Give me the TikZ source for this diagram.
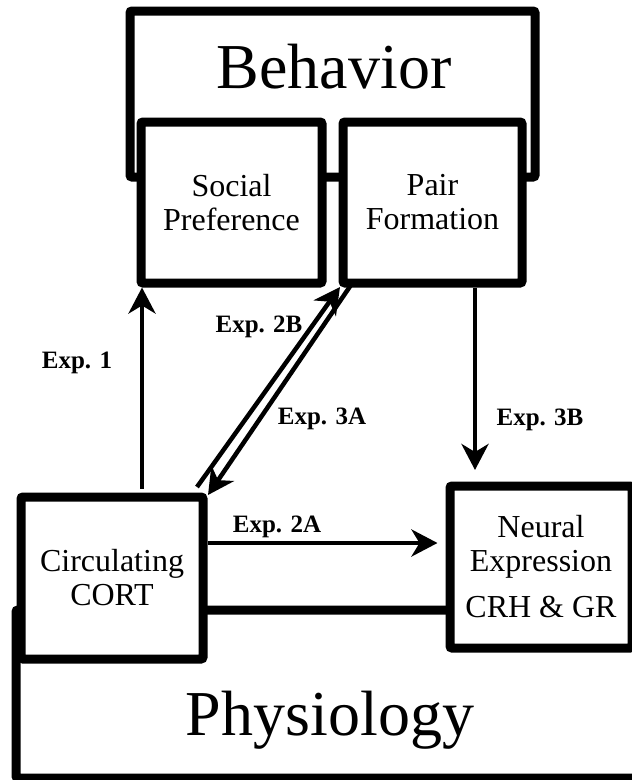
\documentclass[tikz,border=0pt]{standalone}
\usepackage{fontspec}
\setmainfont{Liberation Serif}
\usepackage{tikz}
\usetikzlibrary{arrows.meta}

\begin{document}
\begin{tikzpicture}[x=1pt, y=-1pt,
      big/.style={draw, line width=9pt, rounded corners=2pt, inner sep=0pt},
      bx/.style={draw, line width=9pt, fill=white, rounded corners=2pt, inner sep=0pt, align=center, font=\fontsize{32}{34}\selectfont},
      ttl/.style={anchor=base, font=\fontsize{64}{70}\selectfont},
      lab/.style={anchor=base, font=\bfseries\fontsize{25}{28}\selectfont},
      arr/.style={line width=4.5pt, -{Stealth[length=26pt, width=27pt, inset=8pt]}}]
    \useasboundingbox (0,0) rectangle (632,780);
    \clip (0,0) rectangle (632,780);
    % outer boxes
    \node[big, minimum width=405pt, minimum height=166pt] (beh) at (332.5, 94) {};
    \node[ttl] (behtxt) at (334, 88) {Behavior};
    \node[big, minimum width=634pt, minimum height=168pt] (phys) at (333, 694) {};
    \node[ttl] (phystxt) at (330, 735) {Physiology};
    % inner boxes
    \node[bx, minimum width=181pt, minimum height=161pt] (soc) at (231.5, 202.5) {Social\\Preference};
    \node[bx, minimum width=179pt, minimum height=161pt] (pair) at (432.5, 202.5) {Pair\\Formation};
    \node[bx, minimum width=182pt, minimum height=162pt] (cort) at (112, 578) {Circulating\\CORT};
    \node[bx, minimum width=182pt, minimum height=162pt] (neur) at (541, 567) {Neural\\Expression\\[12pt]CRH \& GR};
    % experiments
    \draw[arr] ([xshift=30pt, yshift=4pt]cort.north) -- ([xshift=5.5pt]soc.south west);
    \draw[arr] ([xshift=-10.5pt, yshift=5.5pt]cort.north east) -- ([xshift=1.5pt, yshift=0.5pt]pair.south west);
    \draw[arr] ([xshift=14.5pt, yshift=5.5pt]pair.south west) -- ([xshift=0.5pt, yshift=-2.5pt]cort.north east);
    \draw[arr] ([yshift=35pt]cort.east) -- ([xshift=-8pt, yshift=24pt]neur.west);
    \draw[arr] ([xshift=42.5pt]pair.south) -- ([xshift=-66pt, yshift=11.5pt]neur.north);
    \node[lab] (e1) at (77, 368) {Exp. 1};
    \node[lab] (e2b) at (259, 332) {Exp. 2B};
    \node[lab] (e3a) at (322, 424) {Exp. 3A};
    \node[lab] (e2a) at (277, 532) {Exp. 2A};
    \node[lab] (e3b) at (540, 425) {Exp. 3B};
\end{tikzpicture}
\end{document}
